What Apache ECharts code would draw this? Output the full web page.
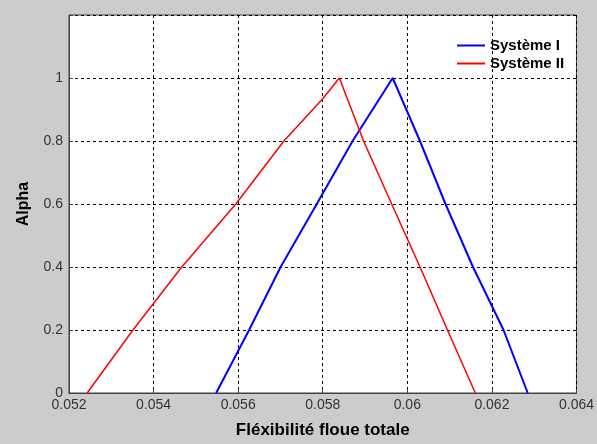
<!DOCTYPE html>
<html><head><meta charset="utf-8">
<script src="https://cdn.jsdelivr.net/npm/echarts@6/dist/echarts.min.js"></script>
<style>html,body{margin:0;padding:0;background:#cccccc;}#c{width:597px;height:444px;}</style>
</head><body><div id="c"></div>
<script>
var seriesNames = ["Système I", "Système II"];
var xTicks = [0.052, 0.054, 0.056, 0.058, 0.06, 0.062, 0.064];
var yTicks = [0, 0.2, 0.4, 0.6, 0.8, 1];
// Système I (blue): flexibility values and alpha levels
var sys1X = [0.05548, 0.056259, 0.057004, 0.057859, 0.058706, 0.059654, 0.060299, 0.060902, 0.061553, 0.062275, 0.062847];
var sys1Y = [0, 0.2, 0.4, 0.6, 0.8, 1, 0.8, 0.6, 0.4, 0.2, 0];
// Système II (red)
var sys2X = [0.05243, 0.053513, 0.054666, 0.055945, 0.057082, 0.058, 0.058393, 0.058965, 0.05963, 0.0603, 0.060949, 0.061608];
var sys2Y = [0, 0.2, 0.4, 0.6, 0.8, 0.934, 1, 0.8, 0.6, 0.4, 0.2, 0];

function pairs(xs, ys){ return xs.map(function(x,i){ return [x, ys[i]]; }); }
function fmt(v){ return parseFloat(v.toFixed(4)).toString(); }

var chart = echarts.init(document.getElementById('c'));
chart.setOption({
  backgroundColor: '#cccccc',
  animation: false,
  grid: { left: 69, right: 18, top: 15, bottom: 47, show: true, backgroundColor: '#ffffff', borderColor: '#404040', borderWidth: 1 },
  legend: {
    data: seriesNames,
    orient: 'vertical',
    left: 452, top: 32,
    itemWidth: 28, itemHeight: 2, itemGap: 1,
    icon: 'rect',
    textStyle: { fontFamily: 'Liberation Sans', fontWeight: 'bold', fontSize: 15, lineHeight: 17, color: '#000' }
  },
  xAxis: {
    type: 'value', min: 0.052, max: 0.064, interval: 0.002,
    name: 'Fléxibilité floue totale', nameLocation: 'middle', nameGap: 29,
    nameTextStyle: { fontFamily: 'Liberation Sans', fontWeight: 'bold', fontSize: 17, color: '#000' },
    axisLine: { show: true, lineStyle: { color: '#404040' } },
    axisTick: { show: true, inside: true, length: 4, lineStyle: { color: '#404040' } },
    axisLabel: { formatter: fmt, fontFamily: 'Liberation Sans', fontSize: 14, color: '#333', margin: 5 },
    splitLine: { show: true, lineStyle: { color: '#000', type: [3, 3], width: 1 } }
  },
  yAxis: {
    type: 'value', min: 0, max: 1.2, interval: 0.2,
    name: 'Alpha', nameLocation: 'middle', nameGap: 37, nameRotate: 90,
    nameTextStyle: { fontFamily: 'Liberation Sans', fontWeight: 'bold', fontSize: 16, color: '#000' },
    axisLine: { show: true, lineStyle: { color: '#404040' } },
    axisTick: { show: true, inside: true, length: 4, lineStyle: { color: '#404040' } },
    axisLabel: { formatter: function(v){ return v > 1.05 ? '' : fmt(v); }, fontFamily: 'Liberation Sans', fontSize: 14, color: '#333', margin: 6 },
    splitLine: { show: true, lineStyle: { color: '#000', type: [3, 3], width: 1 } }
  },
  series: [
    { name: seriesNames[0], type: 'line', data: pairs(sys1X, sys1Y), showSymbol: false, symbol: 'none', color: '#0000ff', lineStyle: { color: '#0000ff', width: 2 } },
    { name: seriesNames[1], type: 'line', data: pairs(sys2X, sys2Y), showSymbol: false, symbol: 'none', color: '#ff0000', lineStyle: { color: '#ff0000', width: 1.5 } }
  ]
});
</script></body></html>
